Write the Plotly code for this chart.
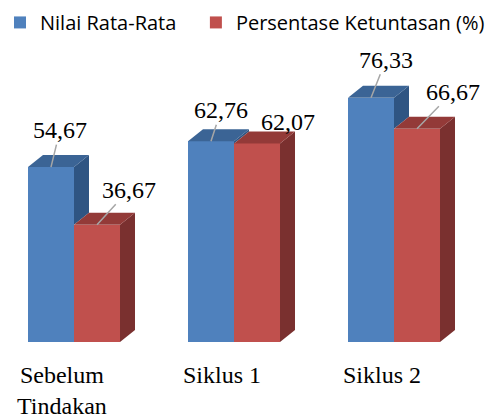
import plotly.graph_objects as go

categories = ["Sebelum<br>Tindakan", "Siklus 1", "Siklus 2"]
nilai_rata_rata = [54.67, 62.76, 76.33]
persentase_ketuntasan = [36.67, 62.07, 66.67]
series_names = ["Nilai Rata-Rata", "Persentase Ketuntasan (%)"]

# styling / geometry (not data)
W = 0.2875          # bar width in category units
DX = 0.09375        # 3D depth offset (x, category units)
DY = 3.75           # 3D depth offset (y, value units)
front = ["#4F81BD", "#C0504D"]
top_c = ["#3B6495", "#933A38"]
side_c = ["#2F5583", "#7A302F"]
legends = ["legend", "legend2"]
label_offsets = [[(9, -37), (10, -31), (15, -38)], [(32, -35), (31, -21), (36, -37)]]
label_arrow = [[True, True, True], [True, False, True]]

fig = go.Figure()
series = [nilai_rata_rata, persentase_ketuntasan]
xs = list(range(len(categories)))

# front faces
for s, vals in enumerate(series):
    centers = [g + (s - 0.5) * W for g in xs]
    fig.add_trace(go.Bar(x=centers, y=vals, width=[W] * len(vals), name=series_names[s],
                         marker=dict(color=front[s], line=dict(width=0)),
                         legend=legends[s], hoverinfo="skip"))

# side & top faces (scatter polygons)
for g in xs:
    for s, vals in enumerate(series):
        h = vals[g]
        c = g + (s - 0.5) * W
        xl, xr = c - W / 2, c + W / 2
        low = 0
        if s == 0:
            low = min(series[1][g], h)
        fig.add_trace(go.Scatter(x=[xr, xr, xr + DX, xr + DX, xr], y=[low, h, h + DY, low + DY, low],
                                 fill="toself", fillcolor=side_c[s], mode="none",
                                 showlegend=False, hoverinfo="skip"))
        fig.add_trace(go.Scatter(x=[xl, xl + DX, xr + DX, xr, xl], y=[h, h + DY, h + DY, h, h],
                                 fill="toself", fillcolor=top_c[s], mode="none",
                                 showlegend=False, hoverinfo="skip"))

label_font = dict(family="Liberation Serif", size=24, color="#000000")
annotations = []
for s, vals in enumerate(series):
    for g in xs:
        c = g + (s - 0.5) * W
        ox, oy = label_offsets[s][g]
        txt = f"{vals[g]:.2f}".replace(".", ",")
        if label_arrow[s][g]:
            annotations.append(dict(x=c, y=vals[g], text=txt, showarrow=True, arrowhead=0,
                                    arrowwidth=1.5, arrowcolor="#A6A6A6", ax=ox, ay=oy,
                                    standoff=0, font=label_font))
        else:
            annotations.append(dict(x=c, y=vals[g], text=txt, showarrow=False,
                                    xshift=ox, yshift=-oy, font=label_font))

for g, cat in enumerate(categories):
    annotations.append(dict(x=g, y=0, text=cat, showarrow=False, xanchor="center", yanchor="top",
                            xshift=-12, yshift=-18, align="center", font=label_font))

legend_style = dict(orientation="h", y=0.993, xanchor="left", yanchor="top",
                    font=dict(family="Open Sans", size=20, color="#000000"),
                    bgcolor="rgba(0,0,0,0)")

fig.update_layout(
    width=501, height=419,
    margin=dict(l=0, r=0, t=0, b=0),
    paper_bgcolor="white", plot_bgcolor="white",
    barmode="overlay", bargap=0,
    xaxis=dict(range=[-0.4625, 2.66875], visible=False, fixedrange=True),
    yaxis=dict(range=[-24.0625, 106.875], visible=False, fixedrange=True),
    legend=dict(x=0, **legend_style),
    legend2=dict(x=0.391, **legend_style),
    annotations=annotations,
    showlegend=True,
)

fig.write_html("out.html", config={"displayModeBar": False},
               post_script="document.body.style.margin='0';")
